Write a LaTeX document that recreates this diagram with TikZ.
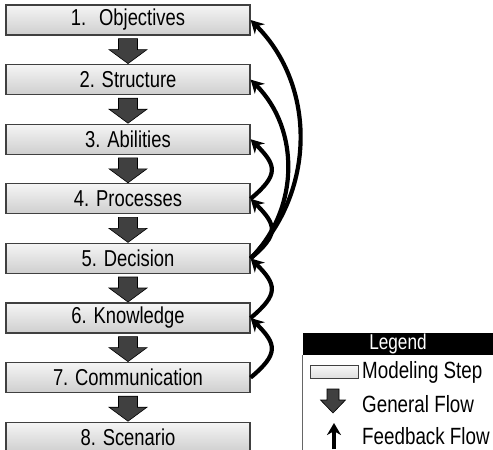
\documentclass[tikz,border=0pt]{standalone}
\usepackage{fontspec}
\setmainfont{Liberation Sans}[FakeStretch=0.8]
\usetikzlibrary{arrows.meta,positioning}

\newcommand{\flowarrow}[1]{%
  \draw[flow] ([yshift=-3]#1.south) ++(-9.5,0) -- ++(19,0) -- ++(0,-11) -- ++(9.5,0)
    -- ++(-19,-14) -- ++(-19,14) -- ++(9.5,0) -- cycle;}

\begin{document}
\begin{tikzpicture}[x=1pt, y=1pt,
    stepbox/.style={draw=black!75, line width=1.2pt, top color=gray!8, bottom color=gray!38,
      minimum width=244, minimum height=30, inner sep=0pt,
      font=\fontsize{23}{25}\selectfont},
    flow/.style={fill=black!75, draw=black, line width=0.6pt},
    feedback/.style={line width=4.2pt, -{Stealth[length=13pt, width=14pt]}},
    legtext/.style={anchor=west, inner sep=0pt, font=\fontsize{23.5}{25}\selectfont}]
    \useasboundingbox (0,0) rectangle (493,-450);

    \foreach \i/\txt in {1/{1.\hspace{6pt} Objectives}, 2/{2. Structure}, 3/{3. Abilities},
        4/{4. Processes}, 5/{5. Decision}, 6/{6. Knowledge}, 7/{7. Communication}, 8/{8. Scenario}}
        \node[stepbox] (b\i) at (128, {-20-59.6*(\i-1)}) {\txt};

    \foreach \i in {1,...,7} {
        \flowarrow{b\i}
    }

    % feedback
    \draw[feedback] (b4.east) to[out=40, in=-45, looseness=1.6] (b3.east);
    \draw[feedback] (b5.east) to[out=40, in=-45, looseness=1.6] (b4.east);
    \draw[feedback] (b5.east) to[out=45, in=-45] (b2.east);
    \draw[feedback] (b5.east) to[out=45, in=-45] (b1.east);
    \draw[feedback] (b6.east) to[out=40, in=-45, looseness=1.6] (b5.east);
    \draw[feedback] (b7.east) to[out=40, in=-45, looseness=1.6] (b6.east);

    % legend
    \node[fill=black, text=white, minimum width=190, minimum height=22, inner sep=0pt,
        font=\fontsize{21.5}{23}\selectfont] (leg) at (398,-344) {Legend};
    \draw[black!60, line width=1pt] (leg.south west) -- ++(0,-100);
    \node[stepbox, minimum width=48, minimum height=13, line width=0.8pt, top color=gray!5,
        bottom color=gray!25] (legbox) at (334,-371.5) {};
    \node[legtext] (legstep) at (362,-372) {Modeling Step};
    \draw[flow] (327,-389) -- ++(12,0) -- ++(0,-11) -- ++(6.5,0) -- ++(-12.5,-13)
        -- ++(-12.5,13) -- ++(6.5,0) -- cycle;
    \node[legtext] (legflow) at (362,-404) {General Flow};
    \coordinate (fb0) at (334,-449);
    \coordinate (fb1) at (334,-423);
    \draw[line width=4.2pt, -{Stealth[length=12pt, width=14pt]}] (fb0) -- (fb1);
    \node[legtext] (legfb) at (362,-436) {Feedback Flow};
\end{tikzpicture}
\end{document}
